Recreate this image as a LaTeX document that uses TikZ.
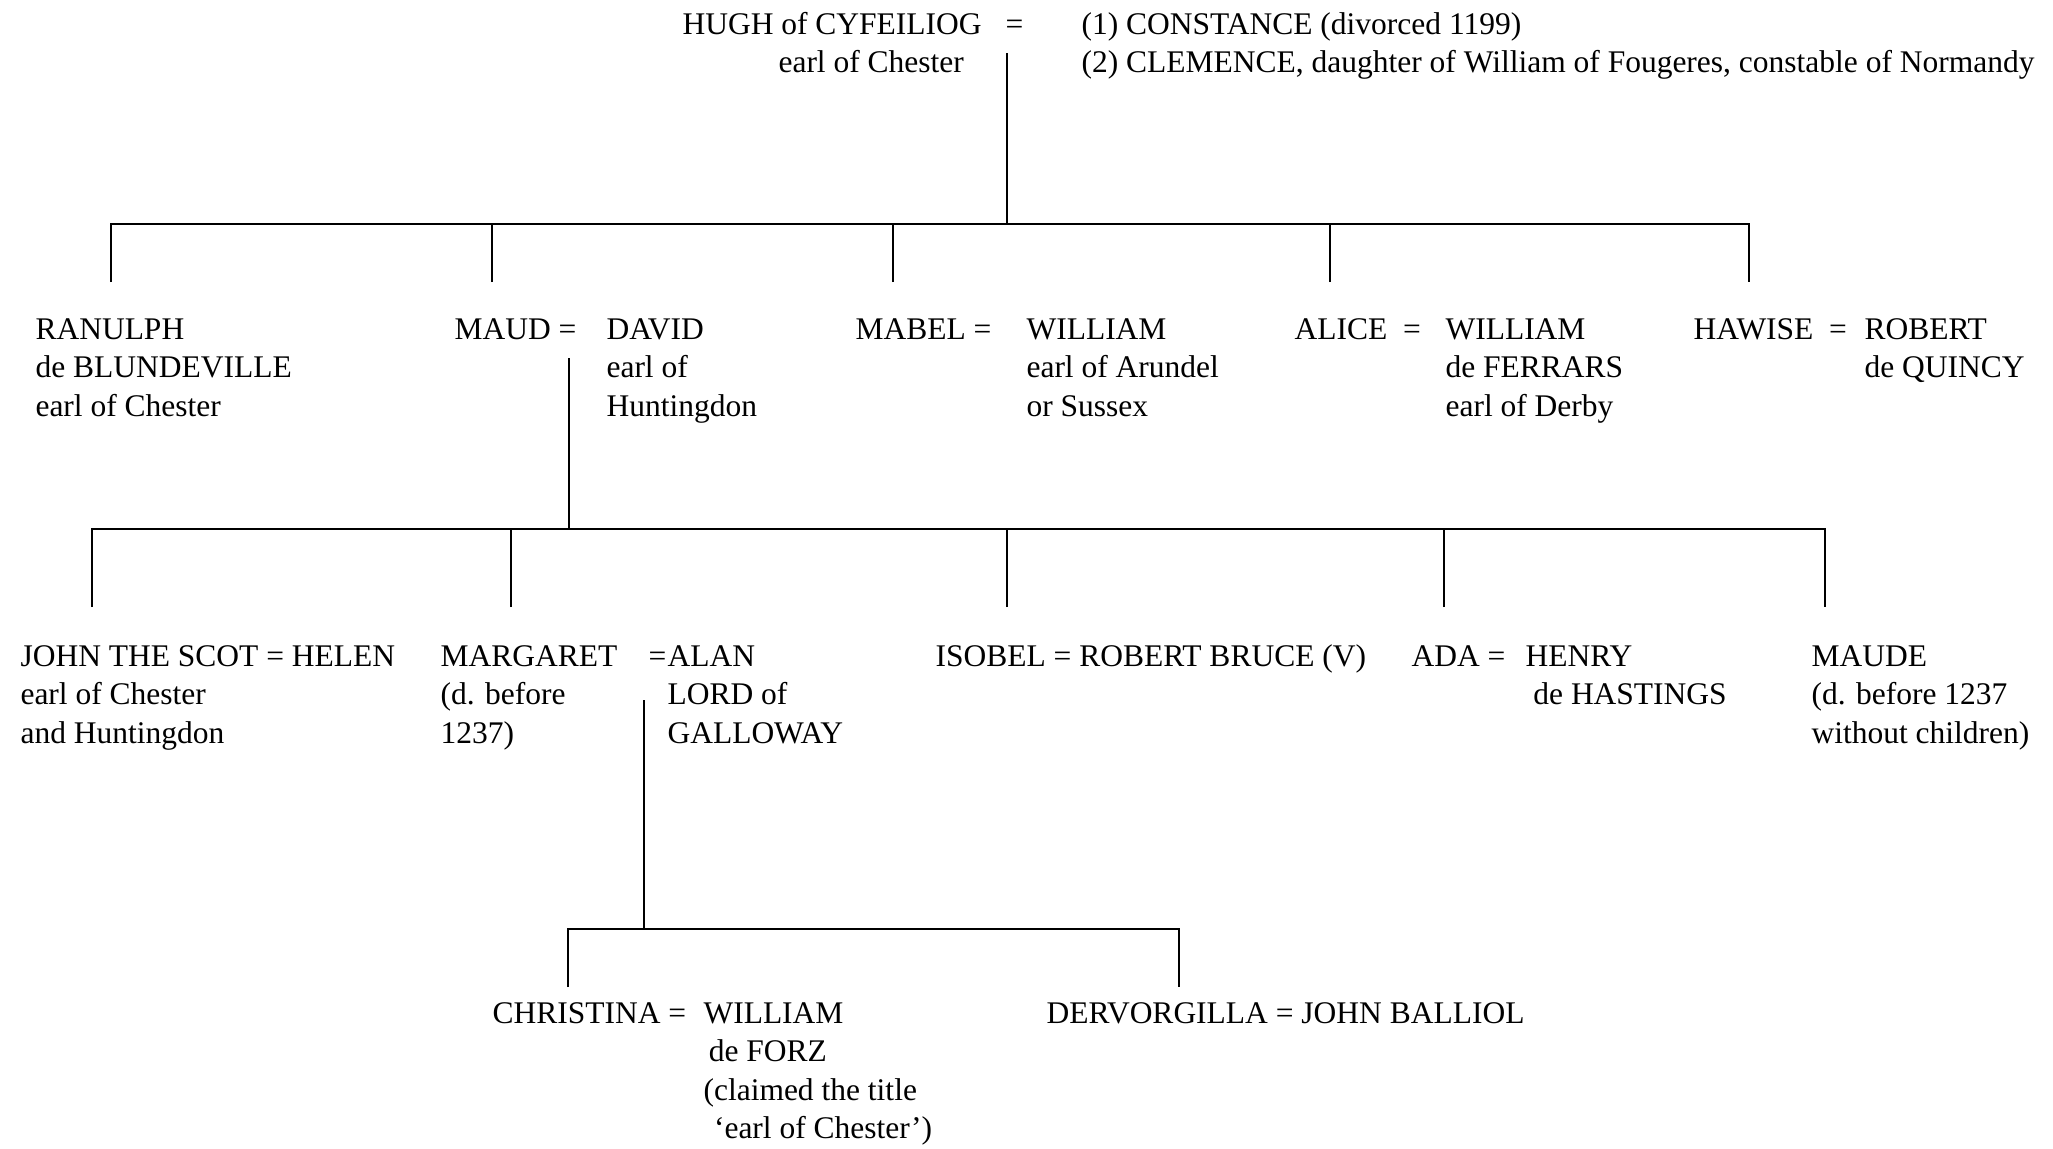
\documentclass[tikz,border=0pt]{standalone}
\usepackage{fontspec}
\setmainfont{Liberation Serif}
\newcommand{\famlines}[1]{\begin{tabular}[t]{@{}l@{}}#1\end{tabular}}
\tikzset{
  person/.style={anchor=base west, inner sep=0pt,
    font=\fontsize{12}{14.7}\selectfont},
  line/.style={line width=0.95pt}
}
\begin{document}
\begin{tikzpicture}[x=0.381pt,y=-0.381pt]
	\useasboundingbox (0,0) rectangle (2053,1148);
	% first generation
	\node[person] (hugh) at (682,34) {HUGH of CYFEILIOG};
	\node[person] (hughtitle) at (778,72) {earl of Chester};
	\node[person] (hugheq) at (1005,34) {=};
	\node[person] (wives) at (1081,34) {\famlines{(1) CONSTANCE (divorced 1199)\\(2) CLEMENCE, daughter of William of Fougeres, constable of Normandy}};
	\coordinate (hughm) at (1007,53);
	\coordinate (bar1) at (1007,224);

	% children of Hugh
	\node[person] (ranulph) at (35,339) {\famlines{RANULPH\\de BLUNDEVILLE\\earl of Chester}};
	\node[person] (maud) at (454,339) {MAUD =};
	\node[person] (david) at (606,339) {\famlines{DAVID\\earl of\\Huntingdon}};
	\node[person] (mabel) at (855,339) {MABEL =};
	\node[person] (arundel) at (1026,339) {\famlines{WILLIAM\\earl of Arundel\\or Sussex}};
	\node[person] (alice) at (1294,339) {ALICE\enspace=};
	\node[person] (ferrars) at (1445,339) {\famlines{WILLIAM\\de FERRARS\\earl of Derby}};
	\node[person] (hawise) at (1693,339) {HAWISE\enspace=};
	\node[person] (quincy) at (1864,339) {\famlines{ROBERT\\de QUINCY}};
	\coordinate (d-ranulph) at (111,282);
	\coordinate (d-maud) at (492,282);
	\coordinate (d-mabel) at (893,282);
	\coordinate (d-alice) at (1330,282);
	\coordinate (d-hawise) at (1749,282);
	\coordinate (maudm) at (569,358);
	\coordinate (bar2) at (569,529);

	% children of Maud and David
	\node[person] (john) at (20,666) {\famlines{JOHN THE SCOT = HELEN\\earl of Chester\\and Huntingdon}};
	\node[person] (margaret) at (440,666) {\famlines{MARGARET\\(d. before\\1237)}};
	\node[person] (alan) at (667,666) {\famlines{ALAN\\LORD of\\GALLOWAY}};
	\node[person, anchor=base east] (alaneq) at (alan.base west) {=};
	\node[person] (isobel) at (935,666) {ISOBEL = ROBERT BRUCE (V)};
	\node[person] (ada) at (1411,666) {ADA =};
	\node[person] (hastings) at (1525,666) {\famlines{HENRY\\\hspace*{3pt}de HASTINGS}};
	\node[person] (maude) at (1811,666) {\famlines{MAUDE\\(d. before 1237\\without children)}};
	\coordinate (d-john) at (92,607);
	\coordinate (d-margaret) at (511,607);
	\coordinate (d-isobel) at (1007,607);
	\coordinate (d-ada) at (1444,607);
	\coordinate (d-maude) at (1825,607);
	\coordinate (margm) at (644,700);
	\coordinate (bar3) at (644,929);

	% children of Margaret and Alan
	\node[person] (christina) at (492,1023) {CHRISTINA =};
	\node[person] (forz) at (703,1023) {\famlines{WILLIAM\\\hspace*{2pt}de FORZ\\(claimed the title\\\hspace*{4pt}`earl of Chester')}};
	\node[person] (dervorgilla) at (1046,1023) {DERVORGILLA = JOHN BALLIOL};
	\coordinate (d-christina) at (568,987);
	\coordinate (d-dervorgilla) at (1179,987);

	% lines of descent
	\draw[line] (hughm) -- (bar1);
	\draw[line] (d-ranulph) |- (bar1) -| (d-hawise);
	\foreach \c in {maud,mabel,alice}
		{
		\draw[line] (d-\c) -- (d-\c |- bar1);
		}
	\draw[line] (maudm) -- (bar2);
	\draw[line] (d-john) |- (bar2) -| (d-maude);
	\foreach \c in {margaret,isobel,ada}
		{
		\draw[line] (d-\c) -- (d-\c |- bar2);
		}
	\draw[line] (margm) -- (bar3);
	\draw[line] (d-christina) |- (bar3) -| (d-dervorgilla);
\end{tikzpicture}
\end{document}
